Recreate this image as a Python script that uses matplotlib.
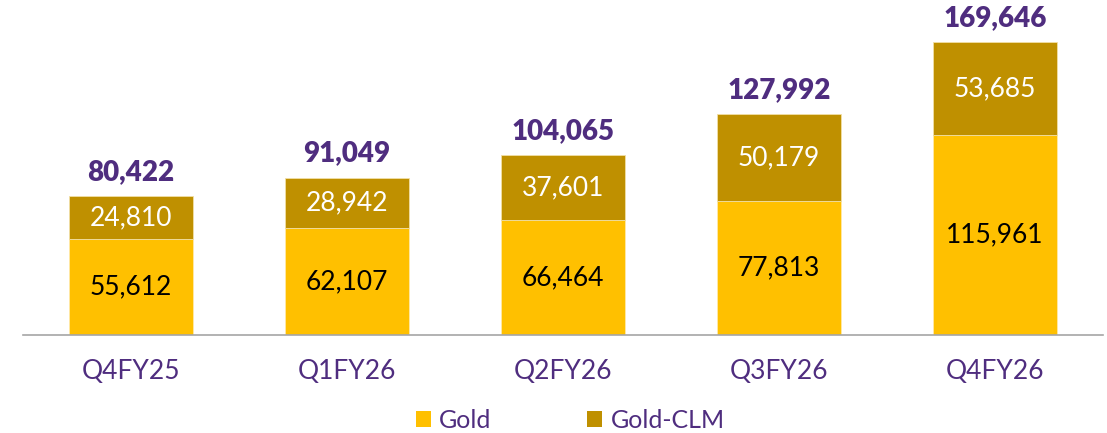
import numpy as np
import matplotlib.pyplot as plt

plt.rcParams['font.family'] = ['Lato', 'DejaVu Sans']

quarters = ['Q4FY25', 'Q1FY26', 'Q2FY26', 'Q3FY26', 'Q4FY26']
gold = [55612, 62107, 66464, 77813, 115961]
gold_clm = [24810, 28942, 37601, 50179, 53685]
totals = [80422, 91049, 104065, 127992, 169646]

c_gold = '#FFC000'
c_clm = '#BF9000'
purple = '#4F2D7F'

W, H = 1107, 433
fig = plt.figure(figsize=(W/100, H/100), dpi=100)
ax = fig.add_axes([23/W, (H-335)/H, (1103-23)/W, 328/H])

x = np.arange(len(quarters))
bw = 0.574
ax.bar(x, gold, bw, color=c_gold, label='Gold', edgecolor='#FFE9A8', linewidth=0.6)
ax.bar(x, gold_clm, bw, bottom=gold, color=c_clm, label='Gold-CLM',
       edgecolor='#F2DFA6', linewidth=0.6)

for i in range(len(x)):
    ax.text(x[i], gold[i]/2, f'{gold[i]:,}', ha='center', va='center',
            fontsize=19, color='black')
    ax.text(x[i], gold[i] + gold_clm[i]/2, f'{gold_clm[i]:,}', ha='center',
            va='center', fontsize=19, color='white')
    ax.text(x[i], totals[i] + 6500, f'{totals[i]:,}', ha='center',
            va='bottom', fontsize=20, fontweight='heavy', color=purple)

ax.set_xlim(-0.5, 4.5)
ax.set_ylim(0, 190000)
ax.set_xticks(x)
ax.set_xticklabels(quarters, fontsize=19, color=purple)
ax.tick_params(axis='x', length=0, pad=17)
ax.set_yticks([])
for s in ['top', 'right', 'left']:
    ax.spines[s].set_visible(False)
ax.spines['bottom'].set_color('#A6A6A6')
ax.spines['bottom'].set_linewidth(1.2)

leg = fig.legend(loc='lower center', bbox_to_anchor=(0.515, -0.05), ncol=2,
                 frameon=False, fontsize=18, handlelength=0.6, handleheight=0.6,
                 handletextpad=0.35, columnspacing=3.8)
for t in leg.get_texts():
    t.set_color(purple)
for p in leg.get_patches():
    p.set_linewidth(0)

fig.savefig('out.png', dpi=100)
